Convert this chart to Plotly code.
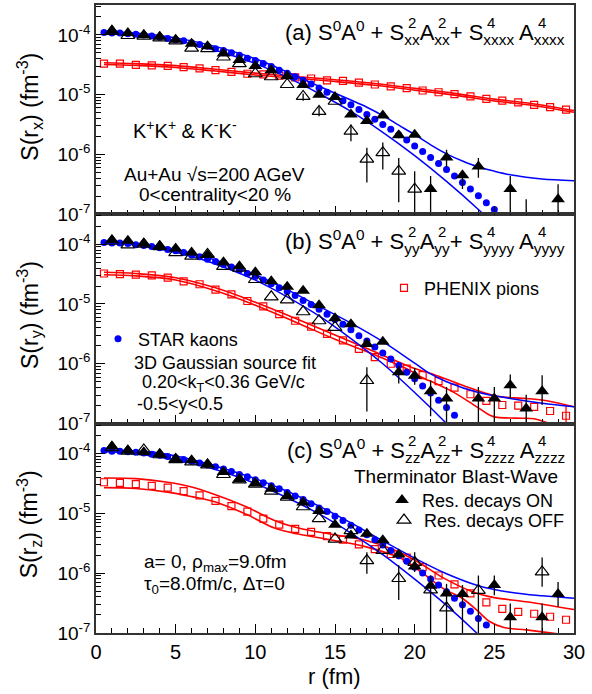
import numpy as np
import plotly.graph_objects as go
from plotly.subplots import make_subplots

# ---------------- data (values are log10 of S in fm^-3) ----------------
R_HALF = [0.5, 1.0, 1.5, 2.0, 2.5, 3.0, 3.5, 4.0, 4.5, 5.0,
          5.5, 6.0, 6.5, 7.0, 7.5, 8.0, 8.5, 9.0, 9.5, 10.0,
          10.5, 11.0, 11.5, 12.0, 12.5, 13.0, 13.5, 14.0, 14.5, 15.0,
          15.5, 16.0, 16.5, 17.0, 17.5, 18.0, 18.5, 19.0, 19.5, 20.0,
          20.5, 21.0, 21.5, 22.0, 22.5, 23.0, 23.5, 24.0, 24.5, 25.0]
R_SQ = [0.5, 1.5, 2.5, 3.5, 4.5, 5.5, 6.5, 7.5, 8.5, 9.5,
        10.5, 11.5, 12.5, 13.5, 14.5, 15.5, 16.5, 17.5, 18.5, 19.5,
        20.5, 21.5, 22.5, 23.5, 24.5, 25.5, 26.5, 27.5, 28.5, 29.5]

# STAR kaons (blue dots)
star_a = [-3.96, -3.97, -3.97, -3.98, -3.99, -4.00, -4.02, -4.04, -4.06, -4.08,
          -4.10, -4.13, -4.16, -4.19, -4.23, -4.26, -4.30, -4.34, -4.39, -4.43,
          -4.48, -4.53, -4.59, -4.64, -4.70, -4.76, -4.82, -4.89, -4.96, -5.03,
          -5.10, -5.17, -5.25, -5.33, -5.41, -5.50, -5.58, -5.67, -5.76, -5.86,
          -5.95, -6.05, -6.15, -6.25, -6.36, -6.47, -6.58, -6.69, -6.81, -6.92]
star_b = [-3.97, -3.98, -3.98, -3.99, -4.01, -4.02, -4.04, -4.06, -4.09, -4.11,
          -4.14, -4.18, -4.21, -4.25, -4.29, -4.34, -4.38, -4.43, -4.49, -4.54,
          -4.60, -4.66, -4.73, -4.79, -4.86, -4.94, -5.01, -5.09, -5.17, -5.26,
          -5.34, -5.43, -5.53, -5.62, -5.72, -5.82, -5.92, -6.03, -6.14, -6.25,
          -6.37, -6.49, -6.61, -6.73, -6.86]
star_c = [-3.95, -3.96, -3.96, -3.97, -3.98, -3.99, -4.01, -4.03, -4.05, -4.07,
          -4.10, -4.13, -4.16, -4.19, -4.22, -4.26, -4.30, -4.35, -4.39, -4.44,
          -4.49, -4.54, -4.59, -4.65, -4.71, -4.77, -4.84, -4.91, -4.97, -5.05,
          -5.12, -5.20, -5.28, -5.36, -5.44, -5.53, -5.62, -5.71, -5.80, -5.90,
          -6.00, -6.10, -6.20, -6.31, -6.42, -6.53, -6.64, -6.76, -6.87]

# PHENIX pions (red open squares)
pion_a = [-4.48, -4.48, -4.50, -4.51, -4.52, -4.54, -4.56, -4.59, -4.62, -4.65,
          -4.66, -4.68, -4.71, -4.73, -4.76, -4.77, -4.80, -4.83, -4.86, -4.89,
          -4.93, -4.96, -4.99, -5.03, -5.07, -5.10, -5.13, -5.17, -5.21, -5.25]
pion_b = [-4.49, -4.50, -4.51, -4.52, -4.56, -4.62, -4.67, -4.76, -4.84, -4.95,
          -5.04, -5.17, -5.28, -5.38, -5.50, -5.61, -5.75, -5.89, -6.00, -6.08,
          -6.19, -6.29, -6.40, -6.51, -6.62, -6.69, -6.70, -6.72, -6.79, -6.87]
pion_b_last_hi = -6.70
pion_b_last_lo = -7.40
pion_c = [-4.48, -4.49, -4.51, -4.54, -4.57, -4.63, -4.70, -4.79, -4.88, -4.97,
          -5.09, -5.19, -5.26, -5.31, -5.38, -5.44, -5.52, -5.60, -5.68, -5.74,
          -5.90, -6.04, -6.19, -6.34, -6.49, -6.60, -6.65, -6.68, -6.73, -6.78]

# red (pion) fit band lines
pband_a_hi_r = [0.5, 2.5, 5, 7.5, 10, 12.5, 15, 17.5, 20, 22.5, 25, 27.5, 30]
pband_a_hi = [-4.465, -4.48, -4.515, -4.575, -4.64, -4.695, -4.75, -4.813, -4.895, -4.978, -5.075, -5.155, -5.265]
pband_a_lo_r = [0.5, 2.5, 5, 7.5, 10, 12.5, 15, 17.5, 20, 22.5, 25, 27.5, 30]
pband_a_lo = [-4.495, -4.51, -4.545, -4.605, -4.67, -4.725, -4.78, -4.843, -4.925, -5.008, -5.105, -5.185, -5.295]
pband_b_hi_r = [0.5, 2.5, 5, 7.5, 10, 12.5, 15, 17.6, 19.7, 21.2, 23, 25.1, 27, 28.3, 30]
pband_b_hi = [-4.47, -4.49, -4.56, -4.73, -4.97, -5.24, -5.52, -5.81, -6.05, -6.18, -6.36, -6.54, -6.58, -6.62, -6.72]
pband_b_lo_r = [0.5, 2.5, 5, 7.5, 10, 12.5, 15, 17.6, 19.7, 20.4, 21.4, 22.4, 23.9, 24.9, 26.4, 27.5, 28.5, 30]
pband_b_lo = [-4.51, -4.53, -4.60, -4.78, -5.02, -5.30, -5.59, -5.86, -6.11, -6.22, -6.34, -6.47, -6.72, -6.88, -6.91, -6.92, -7.0, -7.1]
pband_c_hi_r = [0.5, 2.5, 4.5, 6, 7.5, 9.5, 11.2, 12.7, 14.8, 16.9, 18.5, 20, 21.8, 23.7, 25, 27, 30]
pband_c_hi = [-4.41, -4.42, -4.48, -4.56, -4.69, -4.90, -5.12, -5.245, -5.35, -5.45, -5.59, -5.78, -6.08, -6.32, -6.41, -6.48, -6.61]
pband_c_lo_r = [0.5, 2.5, 4.5, 6, 7.5, 9.5, 11.2, 12.7, 14.8, 16.9, 19.2, 20.5, 21.8, 23, 23.9, 24.7, 25.6, 27, 28.5, 30]
pband_c_lo = [-4.57, -4.585, -4.645, -4.72, -4.81, -5.025, -5.247, -5.347, -5.446, -5.557, -5.76, -6.0, -6.26, -6.425, -6.62, -6.81, -6.91, -6.95, -7.0, -7.05]

# blue (kaon) fit band lines
kband_a_hi_r = [0.5, 2, 4, 6, 8, 10, 12, 14, 16, 17, 18, 19, 20, 21, 22, 23, 24, 25, 26, 27, 28, 30]
kband_a_hi = [-3.95, -3.96, -4.01, -4.10, -4.23, -4.40, -4.62, -4.86, -5.09, -5.21, -5.35, -5.51, -5.67, -5.84, -5.99, -6.11, -6.21, -6.28, -6.34, -6.38, -6.41, -6.44]
kband_a_lo_r = [0.5, 2, 4, 6, 8, 10, 12, 14, 16, 18, 20, 22, 24, 26]
kband_a_lo = [-3.97, -3.99, -4.05, -4.15, -4.30, -4.48, -4.71, -4.98, -5.28, -5.63, -6.02, -6.45, -6.92, -7.44]
kband_b_hi_r = [0.5, 2, 4, 6, 8, 10, 12, 14, 16, 18, 20, 21, 22, 24, 26, 28, 30]
kband_b_hi = [-3.96, -3.97, -4.04, -4.15, -4.31, -4.51, -4.76, -5.04, -5.32, -5.63, -5.99, -6.17, -6.30, -6.48, -6.58, -6.66, -6.72]
kband_b_lo_r = [0.5, 2, 4, 6, 8, 10, 12, 14, 16, 18, 20, 22, 24]
kband_b_lo = [-3.98, -4.00, -4.08, -4.20, -4.38, -4.60, -4.88, -5.20, -5.58, -6.00, -6.48, -7.00, -7.57]
kband_c_hi_r = [0.5, 2, 4, 6, 8, 10, 12, 14, 16, 18, 20, 22, 24, 26, 28, 30]
kband_c_hi = [-3.94, -3.95, -3.99, -4.10, -4.25, -4.42, -4.63, -4.88, -5.16, -5.46, -5.75, -6.01, -6.21, -6.32, -6.38, -6.42]
kband_c_lo_r = [0.5, 2, 4, 6, 8, 10, 12, 14, 16, 18, 20, 22, 24, 26]
kband_c_lo = [-3.97, -3.99, -4.06, -4.16, -4.31, -4.50, -4.74, -5.01, -5.33, -5.69, -6.10, -6.54, -7.03, -7.57]

# Therminator, resonance decays ON (filled) / OFF (open); value, error-bar top, error-bar bottom
on_a_r = [1, 2, 3, 4, 5, 6, 7, 8, 9, 10, 11, 12, 13, 14, 15, 16, 17, 18, 19, 20, 21, 22, 23, 24, 26, 27, 29]
on_a = [-3.93, -3.97, -4.00, -4.03, -4.08, -4.15, -4.19, -4.31, -4.42, -4.52, -4.59, -4.69, -4.84, -5.00,
        -5.04, -5.33, -5.44, -5.35, -5.68, -5.67, -6.58, -6.05, -6.35, -6.20, -6.58, -7.30, -6.75]
on_a_hi = [-3.93, -3.97, -4.00, -4.03, -4.08, -4.15, -4.19, -4.31, -4.42, -4.52, -4.59, -4.69, -4.84, -5.00,
           -5.04, -5.33, -5.44, -5.35, -5.68, -5.67, -6.36, -5.92, -6.28, -6.06, -6.36, -6.75, -6.50]
on_a_lo = [-3.93, -3.97, -4.00, -4.03, -4.08, -4.15, -4.19, -4.31, -4.42, -4.52, -4.59, -4.69, -4.84, -5.00,
           -5.04, -5.33, -5.44, -5.35, -5.68, -5.67, -7.30, -6.20, -6.58, -6.39, -7.30, -7.60, -7.30]
off_a_r = [1, 2, 3, 4, 5, 6, 7, 8, 9, 10, 11, 12, 13, 14, 15, 16, 17, 18, 19, 20]
off_a = [-3.94, -4.01, -4.02, -4.05, -4.10, -4.22, -4.23, -4.37, -4.48, -4.65,
         -4.70, -4.83, -5.03, -5.28, -5.11, -5.61, -6.08, -5.97, -6.28, -6.58]
off_a_hi = [-3.94, -4.01, -4.02, -4.05, -4.10, -4.22, -4.23, -4.37, -4.48, -4.65,
            -4.70, -4.83, -4.98, -5.20, -5.11, -5.50, -5.89, -5.80, -6.06, -6.28]
off_a_lo = [-3.94, -4.01, -4.02, -4.05, -4.10, -4.22, -4.23, -4.37, -4.48, -4.65,
            -4.70, -4.83, -5.10, -5.36, -5.11, -5.78, -6.47, -6.25, -6.80, -7.30]

on_b_r = [1, 2, 3, 4, 5, 6, 7, 8, 9, 10, 11, 12, 13, 14, 15, 16, 17, 18, 19, 20, 21, 22, 24, 25, 26, 27, 28]
on_b = [-3.93, -3.94, -3.99, -4.03, -4.07, -4.14, -4.18, -4.30, -4.37, -4.47, -4.62, -4.71, -4.78, -5.02,
        -5.24, -5.34, -5.67, -5.63, -6.14, -6.20, -6.46, -6.58, -6.58, -6.58, -6.36, -6.75, -6.46]
on_b_hi = [-3.93, -3.94, -3.99, -4.03, -4.07, -4.14, -4.18, -4.30, -4.37, -4.47, -4.62, -4.71, -4.78, -5.02,
           -5.24, -5.34, -5.67, -5.63, -6.03, -6.07, -6.28, -6.39, -6.39, -6.39, -6.18, -6.52, -6.19]
on_b_lo = [-3.93, -3.94, -3.99, -4.03, -4.07, -4.14, -4.18, -4.30, -4.37, -4.47, -4.62, -4.71, -4.78, -5.02,
           -5.24, -5.34, -5.67, -5.63, -6.33, -6.35, -6.88, -7.30, -7.30, -7.30, -6.58, -7.30, -6.69]
off_b_r = [1, 2, 3, 4, 5, 6, 7, 8, 9, 10, 11, 12, 13, 14, 15, 17]
off_b = [-3.95, -4.01, -4.00, -4.04, -4.14, -4.20, -4.17, -4.37, -4.40, -4.59, -4.88, -4.93, -5.13, -5.28, -5.39, -6.28]
off_b_hi = [-3.95, -4.01, -4.00, -4.04, -4.14, -4.20, -4.17, -4.37, -4.40, -4.59, -4.88, -4.93, -5.13, -5.28, -5.39, -6.06]
off_b_lo = [-3.95, -4.01, -4.00, -4.04, -4.14, -4.20, -4.17, -4.37, -4.40, -4.59, -4.88, -4.93, -5.13, -5.28, -5.39, -6.80]

on_c_r = [1, 2, 3, 4, 5, 6, 7, 8, 9, 10, 11, 12, 13, 14, 15, 16, 17, 18, 19, 20, 21, 22, 23, 25, 26, 28, 29]
on_c = [-3.88, -3.95, -3.98, -4.01, -4.09, -4.11, -4.18, -4.31, -4.43, -4.50, -4.59, -4.71, -4.82, -4.96,
        -5.19, -5.37, -5.34, -5.45, -5.69, -5.89, -6.21, -6.34, -6.35, -6.20, -6.74, -6.74, -6.35]
on_c_hi = [-3.88, -3.95, -3.98, -4.01, -4.09, -4.11, -4.18, -4.31, -4.43, -4.50, -4.59, -4.71, -4.82, -4.96,
           -5.19, -5.37, -5.34, -5.45, -5.69, -5.89, -6.04, -6.34, -6.20, -6.04, -6.51, -6.51, -6.15]
on_c_lo = [-3.88, -3.95, -3.98, -4.01, -4.09, -4.11, -4.18, -4.31, -4.43, -4.50, -4.59, -4.71, -4.82, -4.96,
           -5.19, -5.37, -5.34, -5.45, -5.69, -5.89, -7.30, -6.34, -7.30, -6.37, -7.30, -7.30, -6.56]
off_c_r = [1, 2, 3, 4, 5, 6, 7, 8, 9, 10, 11, 12, 13, 14, 15, 16, 17, 18, 19, 20, 21, 22, 24, 28]
off_c = [-3.90, -3.96, -3.94, -4.02, -4.10, -4.14, -4.19, -4.35, -4.44, -4.51, -4.63, -4.73, -4.89, -5.09,
         -5.43, -5.29, -5.79, -5.62, -6.09, -5.82, -6.28, -6.58, -6.29, -5.98]
off_c_hi = [-3.90, -3.96, -3.94, -4.02, -4.10, -4.14, -4.19, -4.35, -4.44, -4.51, -4.63, -4.73, -4.89, -5.09,
            -5.43, -5.29, -5.65, -5.62, -5.87, -5.65, -6.28, -6.18, -6.04, -5.74]
off_c_lo = [-3.90, -3.96, -3.94, -4.02, -4.10, -4.14, -4.19, -4.35, -4.44, -4.51, -4.63, -4.73, -4.89, -5.09,
            -5.43, -5.29, -6.01, -5.62, -6.45, -5.98, -6.28, -7.30, -7.30, -6.23]

Y_TICKS = [1e-7, 1e-6, 1e-5, 1e-4]
Y_TICKTEXT = ["10<sup>-7</sup>", "10<sup>-6</sup>", "10<sup>-5</sup>", "10<sup>-4</sup>"]
X_TICKS = [0, 5, 10, 15, 20, 25, 30]

# ---------------- figure ----------------
W, H = 592, 694
ML, MR, MT, MB = 96, 18, 3, 61
PW, PH = W - ML - MR, H - MT - MB


def px(x):
    return (x - ML) / PW


def py(y):
    return (H - MB - y) / PH


def p(v):
    return np.power(10.0, np.asarray(v, dtype=float))


BLUE = "#0000ff"
RED = "#ff0000"
FONT = "Liberation Sans, Arial, Helvetica, sans-serif"

fig = make_subplots(rows=3, cols=1, shared_xaxes=True, vertical_spacing=0)

panels = [
    dict(star=star_a, pion=pion_a,
         pb=[(pband_a_hi_r, pband_a_hi), (pband_a_lo_r, pband_a_lo)],
         kb=[(kband_a_hi_r, kband_a_hi), (kband_a_lo_r, kband_a_lo)],
         on=(on_a_r, on_a, on_a_hi, on_a_lo), off=(off_a_r, off_a, off_a_hi, off_a_lo)),
    dict(star=star_b, pion=pion_b,
         pb=[(pband_b_hi_r, pband_b_hi), (pband_b_lo_r, pband_b_lo)],
         kb=[(kband_b_hi_r, kband_b_hi), (kband_b_lo_r, kband_b_lo)],
         on=(on_b_r, on_b, on_b_hi, on_b_lo), off=(off_b_r, off_b, off_b_hi, off_b_lo)),
    dict(star=star_c, pion=pion_c,
         pb=[(pband_c_hi_r, pband_c_hi), (pband_c_lo_r, pband_c_lo)],
         kb=[(kband_c_hi_r, kband_c_hi), (kband_c_lo_r, kband_c_lo)],
         on=(on_c_r, on_c, on_c_hi, on_c_lo), off=(off_c_r, off_c, off_c_hi, off_c_lo)),
]


def err(v, hi, lo):
    v, hi, lo = p(v), p(hi), p(lo)
    return dict(type="data", symmetric=False, array=hi - v, arrayminus=v - lo,
                color="black", thickness=1.3, width=0)


for i, pn in enumerate(panels):
    row = i + 1
    # red pion fit band
    for rr, vv in pn["pb"]:
        fig.add_trace(go.Scatter(x=rr, y=p(vv), mode="lines", showlegend=False,
                                 line=dict(color=RED, width=1.6, shape="spline")), row=row, col=1)
    # PHENIX squares
    ey = None
    if row == 2:
        hi = list(pn["pion"]); lo = list(pn["pion"])
        hi[-1] = pion_b_last_hi; lo[-1] = pion_b_last_lo
        ey = dict(type="data", symmetric=False, array=p(hi) - p(pn["pion"]),
                  arrayminus=p(pn["pion"]) - p(lo), color=RED, thickness=1.3, width=0)
    fig.add_trace(go.Scatter(x=R_SQ, y=p(pn["pion"]), mode="markers", name="PHENIX pions",
                             showlegend=(row == 2), legend="legend", error_y=ey,
                             marker=dict(symbol="square-open", size=7, color=RED,
                                         line=dict(width=1.2, color=RED))), row=row, col=1)
    # blue kaon fit band
    for rr, vv in pn["kb"]:
        fig.add_trace(go.Scatter(x=rr, y=p(vv), mode="lines", showlegend=False,
                                 line=dict(color=BLUE, width=1.5, shape="spline")), row=row, col=1)
    # STAR dots
    fig.add_trace(go.Scatter(x=R_HALF[:len(pn["star"])], y=p(pn["star"]), mode="markers",
                             name="STAR kaons", showlegend=(row == 2), legend="legend2",
                             marker=dict(symbol="circle", size=7, color=BLUE)), row=row, col=1)
    # Therminator OFF (open) then ON (filled)
    r_, v_, h_, l_ = pn["off"]
    fig.add_trace(go.Scatter(x=r_, y=p(v_), mode="markers", name="Res. decays OFF",
                             showlegend=(row == 3), legend="legend4", error_y=err(v_, h_, l_),
                             marker=dict(symbol="triangle-up-open", size=12, color="black",
                                         line=dict(width=1.2, color="black"))), row=row, col=1)
    r_, v_, h_, l_ = pn["on"]
    fig.add_trace(go.Scatter(x=r_, y=p(v_), mode="markers", name="Res. decays ON",
                             showlegend=(row == 3), legend="legend3", error_y=err(v_, h_, l_),
                             marker=dict(symbol="triangle-up", size=12, color="black")), row=row, col=1)

minor_y = [k * 10.0 ** e for e in (-7, -6, -5, -4) for k in range(2, 10)]
AX_LINE = "#333333"
for row in (1, 2, 3):
    fig.update_yaxes(type="log", range=[-7.002, -3.5], tickvals=Y_TICKS, ticktext=Y_TICKTEXT,
                     ticks="inside", ticklen=9, tickwidth=1.2, tickcolor="black",
                     minor=dict(tickvals=minor_y, ticks="inside", ticklen=5, tickwidth=1, tickcolor="black"),
                     showline=True, linecolor=AX_LINE, linewidth=1.5, mirror=True,
                     showgrid=False, zeroline=False,
                     tickfont=dict(family=FONT, size=19, color="black"), row=row, col=1)
    fig.update_xaxes(range=[0, 30], tickvals=X_TICKS, ticks="inside", ticklen=9, tickwidth=1.2,
                     tickcolor="black",
                     minor=dict(dtick=1, ticks="inside", ticklen=5, tickwidth=1, tickcolor="black"),
                     showline=True, linecolor=AX_LINE, linewidth=1.5, mirror=True,
                     showgrid=False, zeroline=False,
                     tickfont=dict(family=FONT, size=20, color="black"), row=row, col=1)
fig.update_xaxes(showticklabels=False, row=1, col=1)
fig.update_xaxes(showticklabels=False, row=2, col=1)
fig.update_xaxes(showticklabels=True, row=3, col=1)

# ---------------- text ----------------
ann = []


def txt(text, x, y, size, xanchor="left", yanchor="middle", angle=0):
    ann.append(dict(text=text, x=px(x), y=py(y), xref="paper", yref="paper", showarrow=False,
                    xanchor=xanchor, yanchor=yanchor, textangle=angle,
                    font=dict(family=FONT, size=size, color="black")))


tops = [3, 212, 422]
labels = [("a", "xx", "xxxx"), ("b", "yy", "yyyy"), ("c", "zz", "zzzz")]
RIGHT = 567
for top, (lab, s2, s4) in zip(tops, labels):
    main = (f"({lab}) S<sup>0</sup>A<sup>0</sup> + S<sub>{s2}</sub>A<sub>{s2}</sub>+ "
            f"S<sub>{s4}</sub> A<sub>{s4}</sub>")
    txt(main, RIGHT, top + 28, 22, xanchor="right")
    for sup, off in zip(["2", "2", "4", "4"], [161.5, 131.4, 82.4, 30.8]):
        txt(sup, RIGHT - off, top + 18, 15)

# panel (a) texts
txt("K<sup>+</sup>K<sup>+</sup> &amp; K<sup>-</sup>K<sup>-</sup>", 131, 128, 20)
txt("Au+Au √s=200 AGeV", 122, 173, 19)
txt("0&lt;centrality&lt;20 %", 137, 193, 19)
# panel (b) texts
txt("3D Gaussian source fit", 132, 362, 18)
txt("0.20&lt;k<sub>T</sub>&lt;0.36 GeV/c", 140, 383, 18)
txt("-0.5&lt;y&lt;0.5", 135, 403, 18)
# panel (c) texts
txt("Therminator Blast-Wave", 352, 476, 19)
txt("a= 0, ρ<sub>max</sub>=9.0fm", 142, 563, 19)
txt("τ<sub>0</sub>=8.0fm/c, Δτ=0", 142, 585, 19)

# axis titles
for top, ax in zip(tops, ["x", "y", "z"]):
    txt(f"S(r<sub>{ax}</sub>) (fm<sup>-3</sup>)", 29, top + 102, 23, xanchor="center", angle=-90)
txt("r (fm)", 334, 677, 22, xanchor="center")

leg_common = dict(xanchor="left", yanchor="middle", bgcolor="rgba(0,0,0,0)", borderwidth=0,
                  font=dict(family=FONT, size=18, color="black"), itemwidth=30)
fig.update_layout(
    width=W, height=H,
    margin=dict(l=ML, r=MR, t=MT, b=MB),
    paper_bgcolor="white", plot_bgcolor="white",
    font=dict(family=FONT, color="black"),
    annotations=ann,
    legend=dict(x=px(384), y=py(287), **leg_common),
    legend2=dict(x=px(98), y=py(338), **leg_common),
    legend3=dict(x=px(382), y=py(500), **leg_common),
    legend4=dict(x=px(384), y=py(520), **leg_common),
)

fig.write_html("out.html", config={"displayModeBar": False},
               post_script="document.body.style.margin='0px';")
